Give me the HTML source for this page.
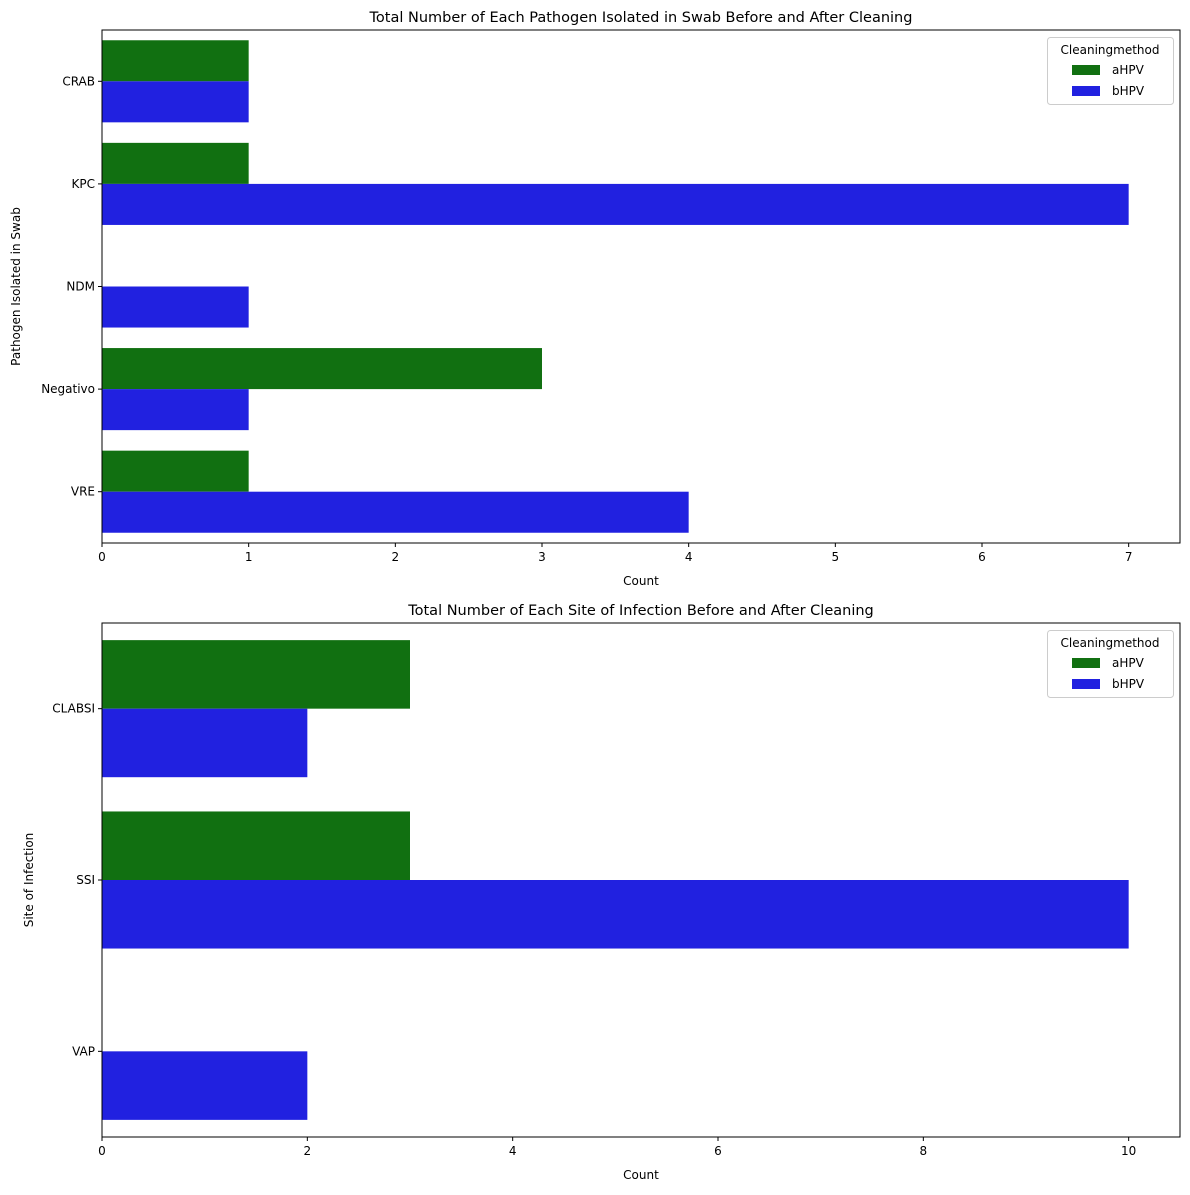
<!DOCTYPE html>
<html><head><meta charset="utf-8"><style>
body{margin:0;background:#fff}
svg text{font-family:"DejaVu Sans","Liberation Sans",sans-serif;fill:#000}
</style></head><body>
<svg id="chart" width="1190" height="1190" xmlns="http://www.w3.org/2000/svg"></svg>
<script>
const cats1 = ["CRAB","KPC","NDM","Negativo","VRE"];
const aHPV1 = [1,1,0,3,1];
const bHPV1 = [1,7,1,1,4];
const ticks1 = [0,1,2,3,4,5,6,7];
const cats2 = ["CLABSI","SSI","VAP"];
const aHPV2 = [3,3,0];
const bHPV2 = [2,10,2];
const ticks2 = [0,2,4,6,8,10];
const GREEN="#117011", BLUE="#2121e0";
const svg=document.getElementById('chart');
const NS="http://www.w3.org/2000/svg";
function mk(tag,attrs,txt){const e=document.createElementNS(NS,tag);for(const k in attrs)e.setAttribute(k,attrs[k]);if(txt!==undefined)e.textContent=txt;svg.appendChild(e);return e;}
function panel(p){
  const L=102,R=1180,T=p.top,B=p.bottom;
  const x=v=>L+(v-0)/(p.xmax)*(R-L);
  const step=(B-T)/p.cats.length;
  const yc=i=>T+step*(i+0.5);
  const bh=step*0.4;
  p.cats.forEach((c,i)=>{
    if(p.a[i]>0){const r=mk('rect',{x:L,y:yc(i)-bh,width:x(p.a[i])-L,height:bh,fill:GREEN});
      
      }
    if(p.b[i]>0){const r=mk('rect',{x:L,y:yc(i),width:x(p.b[i])-L,height:bh,fill:BLUE});
      
      }
    mk('line',{x1:L-4,x2:L,y1:yc(i),y2:yc(i),stroke:'#000'});
    const t=mk('text',{x:L-7,y:yc(i)+4,'text-anchor':'end','font-size':12},c);
    
    
  });
  p.ticks.forEach(v=>{
    mk('line',{x1:x(v),x2:x(v),y1:B,y2:B+4,stroke:'#000'});
    const t=mk('text',{x:x(v),y:B+18,'text-anchor':'middle','font-size':12},String(v));
    
    
  });
  const fr=mk('rect',{x:L,y:T,width:R-L,height:B-T,fill:'none',stroke:'#000','stroke-width':1});
  
  
  const ti=mk('text',{x:(L+R)/2,y:T-8,'text-anchor':'middle','font-size':14.5},p.title);
  
  
  const xl=mk('text',{x:(L+R)/2,y:B+42,'text-anchor':'middle','font-size':12},'Count');
  
  
  const yl=mk('text',{x:p.ylx,y:(T+B)/2,'text-anchor':'middle','font-size':12,transform:`rotate(-90 ${p.ylx} ${(T+B)/2})`},p.ylabel);
  
  
  const lg=mk('rect',{x:1047.5,y:T+7.5,width:126,height:67,rx:3,fill:'#fff',stroke:'#ccc'});
  
  
  mk('text',{x:1110,y:T+24,'text-anchor':'middle','font-size':12},'Cleaningmethod');
  const e1=mk('rect',{x:1072,y:T+35,width:28,height:10,fill:GREEN});
  
  
  mk('text',{x:1112,y:T+44,'font-size':12},'aHPV');
  const e2=mk('rect',{x:1072,y:T+56,width:28,height:10,fill:BLUE});
  
  
  mk('text',{x:1112,y:T+65,'font-size':12},'bHPV');
}
panel({top:30,bottom:543,xmax:7.35,cats:cats1,a:aHPV1,b:bHPV1,ticks:ticks1,title:'Total Number of Each Pathogen Isolated in Swab Before and After Cleaning',ylabel:'Pathogen Isolated in Swab',ylx:20});
panel({top:623,bottom:1137,xmax:10.5,cats:cats2,a:aHPV2,b:bHPV2,ticks:ticks2,title:'Total Number of Each Site of Infection Before and After Cleaning',ylabel:'Site of Infection',ylx:33});
</script>
</body></html>
